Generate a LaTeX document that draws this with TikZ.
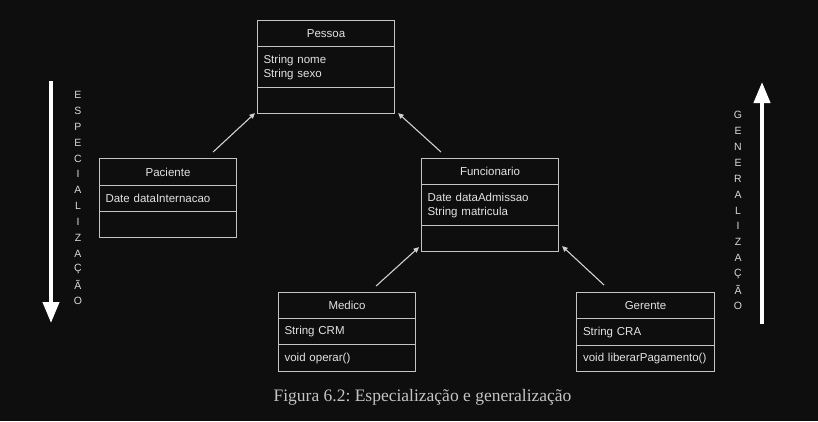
\documentclass[tikz,border=0pt]{standalone}
\usepackage{fontspec}
\setmainfont{Liberation Serif}
\setsansfont{Liberation Sans}
\usetikzlibrary{arrows.meta}
\definecolor{bg}{HTML}{0E0E0E}
\definecolor{boxline}{HTML}{C4C4C4}
\definecolor{boxtext}{HTML}{E2E2E2}
\definecolor{conncol}{HTML}{D0D0D0}
\definecolor{lettercol}{HTML}{D8D8D8}
\definecolor{captext}{HTML}{C4C4C4}
\begin{document}
\frenchspacing
\begin{tikzpicture}[x=1pt,y=-1pt,
  part/.style={draw=boxline, line width=1.1pt, minimum width=137pt, minimum height=26pt,
    inner sep=0pt, anchor=north west, text=boxtext,
    font=\sffamily\fontsize{11.5}{14}\selectfont},
  attr/.style={part, text width=125pt, align=left},
  conn/.style={draw=conncol, line width=1.1pt, -{Triangle[length=5.5pt,width=5pt]}},
  bigarrow/.style={draw=white, line width=4pt, -{Triangle[length=21pt,width=16pt]}},
  vletter/.style={text=lettercol, inner sep=0pt, font=\sffamily\fontsize{10.5}{12}\selectfont},
  caption/.style={text=captext, font=\fontsize{17.5}{20}\selectfont}]
\path[fill=bg, use as bounding box] (0,0) rectangle (818,421);

% Pessoa
\node[part] (pes1) at (257,20) {Pessoa};
\node[attr, minimum height=41pt] (pes2) at (257,46) {String nome\\String sexo};
\node[attr] (pes3) at (257,87) {};

% Paciente
\node[part, minimum height=27pt] (pac1) at (99,158) {Paciente};
\node[attr] (pac2) at (99,185) {Date dataInternacao};
\node[attr] (pac3) at (99,211) {};

% Funcionario
\node[part] (fun1) at (421,158) {Funcionario};
\node[attr, minimum height=41pt] (fun2) at (421,184) {Date dataAdmissao\\String matricula};
\node[attr] (fun3) at (421,225) {};

% Medico
\node[part] (med1) at (278,292) {Medico};
\node[attr] (med2) at (278,318) {String CRM};
\node[attr, minimum height=27pt] (med3) at (278,344) {void operar()};

% Gerente
\node[part, minimum width=138pt] (ger1) at (576,292) {Gerente};
\node[attr, minimum width=138pt, minimum height=27pt] (ger2) at (576,318) {String CRA};
\node[attr, minimum width=138pt] (ger3) at (576,345) {void liberarPagamento()};

% connectors
\draw[conn] ([xshift=-24pt,yshift=6pt]pac1.north east) -- ([xshift=-2pt,yshift=1pt]pes3.south west);
\draw[conn] ([xshift=20pt,yshift=6pt]fun1.north west) -- ([xshift=3pt,yshift=1pt]pes3.south east);
\draw[conn] ([xshift=-40pt,yshift=6pt]med1.north east) -- ([xshift=-2pt,yshift=5pt]fun3.south west);
\draw[conn] ([xshift=28pt,yshift=7pt]ger1.north west) -- ([xshift=3pt,yshift=6pt]fun3.south east);

% big arrows
\coordinate (espTop) at (51,81);
\coordinate (espTip) at (51,323);
\coordinate (genBot) at (762,324);
\coordinate (genTip) at (762,82);
\draw[bigarrow] (espTop) -- (espTip);
\draw[bigarrow] (genBot) -- (genTip);

\foreach \l [count=\i from 0] in {E,S,P,E,C,I,A,L,I,Z,A,Ç,Ã,O}
  \node[vletter] (esp\i) at (78,95+15.85*\i) {\l};
\foreach \l [count=\i from 0] in {G,E,N,E,R,A,L,I,Z,A,Ç,Ã,O}
  \node[vletter] (gen\i) at (738,115+15.9*\i) {\l};

\node[caption] (cap) at (422.5,397) {Figura 6.2: Especialização e generalização};
\end{tikzpicture}
\end{document}
